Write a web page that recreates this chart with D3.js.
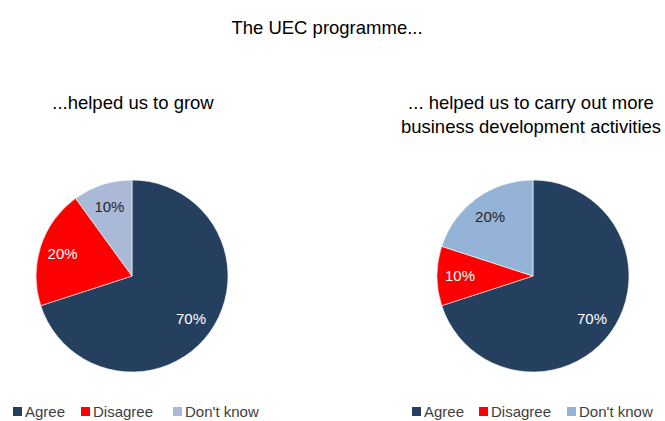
<!DOCTYPE html>
<html>
<head>
<meta charset="utf-8">
<script src="https://cdn.jsdelivr.net/npm/d3@7"></script>
<style>
  html, body { margin: 0; padding: 0; background: #fff; }
  svg { display: block; font-family: "Liberation Sans", Arial, sans-serif; }
</style>
</head>
<body>
<svg id="chart" width="665" height="421"></svg>
<script>
// Survey responses, shared categories
const categories = ["Agree", "Disagree", "Don't know"];
const growValues = [70, 20, 10];
const bizDevValues = [70, 10, 20];
const growColors = ["#253f5f", "#ff0000", "#abb9d9"];
const bizDevColors = ["#253f5f", "#ff0000", "#95b3d7"];
const labelColors = ["#ffffff", "#ffffff", "#262626"];
const mainTitle = "The UEC programme...";
const growTitle = ["...helped us to grow"];
const bizDevTitle = ["... helped us to carry out more", "business development activities"];

const svg = d3.select("#chart");

svg.append("text")
  .attr("x", 327).attr("y", 34)
  .attr("text-anchor", "middle")
  .attr("font-size", 18.5)
  .attr("fill", "#000")
  .text(mainTitle);

function drawPie(cx, cy, r, values, colors, titleLines, titleCx, titleY, legendX, legendGaps) {
  const g = svg.append("g");
  const data = categories.map((c, i) => ({ cat: c, value: values[i], color: colors[i], lc: labelColors[i] }));
  const pie = d3.pie().value(d => d.value).sort(null);
  const arc = d3.arc().innerRadius(0).outerRadius(r);
  const labelArc = d3.arc().innerRadius(r * 0.76).outerRadius(r * 0.76);
  const arcs = pie(data);

  const pg = g.append("g").attr("transform", `translate(${cx},${cy})`);
  pg.selectAll("path").data(arcs).join("path")
    .attr("d", arc)
    .attr("fill", d => d.data.color)
    .attr("stroke", "#ffffff")
    .attr("stroke-width", 0.6);

  pg.selectAll("text").data(arcs).join("text")
    .attr("transform", d => `translate(${labelArc.centroid(d)})`)
    .attr("text-anchor", "middle")
    .attr("dy", "0.35em")
    .attr("font-size", 15)
    .attr("fill", d => d.data.lc)
    .text(d => d.data.value + "%");

  titleLines.forEach((t, i) => {
    g.append("text")
      .attr("x", titleCx).attr("y", titleY + i * 24)
      .attr("text-anchor", "middle")
      .attr("font-size", 18.5)
      .attr("fill", "#000")
      .text(t);
  });

  // Legend
  let x = legendX;
  data.forEach((d, i) => {
    g.append("rect")
      .attr("x", x).attr("y", 407)
      .attr("width", 9).attr("height", 9)
      .attr("fill", d.color);
    g.append("text")
      .attr("x", x + 12).attr("y", 417)
      .attr("font-size", 15)
      .attr("fill", "#404040")
      .text(d.cat);
    x += legendGaps[i];
  });
}

drawPie(132, 276, 96, growValues, growColors, growTitle, 133, 109, 13, [68, 92]);
drawPie(533, 276, 96, bizDevValues, bizDevColors, bizDevTitle, 531, 109, 412, [67, 88]);
</script>
</body>
</html>
